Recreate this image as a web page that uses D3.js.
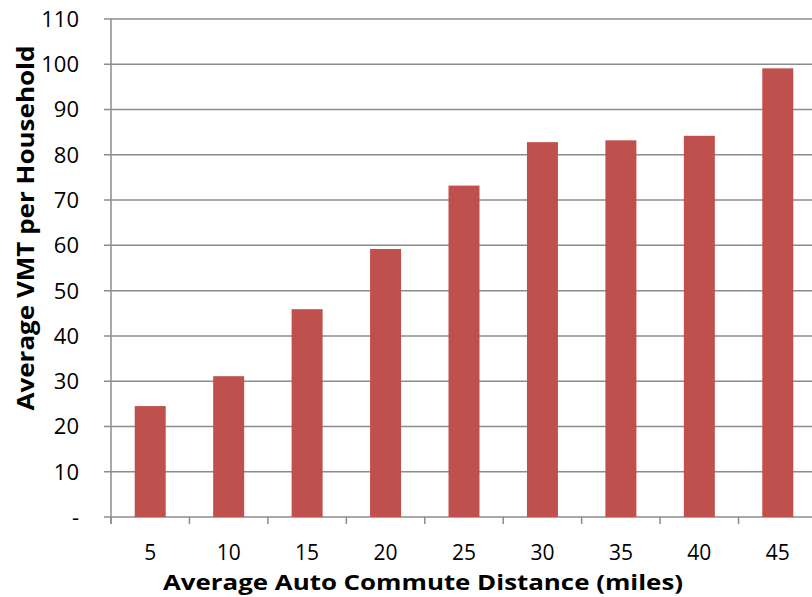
<!DOCTYPE html>
<html>
<head>
<meta charset="utf-8">
<script src="https://cdn.jsdelivr.net/npm/d3@7"></script>
<style>
  html, body { margin: 0; padding: 0; background: #fff; overflow: hidden; }
  svg { display: block; }
</style>
</head>
<body>
<svg id="chart" width="812" height="597"></svg>
<script>
const categories = ["5", "10", "15", "20", "25", "30", "35", "40", "45"];
const values = [24.5, 31.1, 45.9, 59.2, 73.2, 82.8, 83.2, 84.2, 99.1];
const yTicks = [0, 10, 20, 30, 40, 50, 60, 70, 80, 90, 100, 110];
const yTickLabels = ["-", "10", "20", "30", "40", "50", "60", "70", "80", "90", "100", "110"];
const xTitle = "Average Auto Commute Distance (miles)";
const yTitle = "Average VMT per Household";

(function () {
const svg = d3.select("#chart");
const mLeft = 111, mRight = 817, mTop = 19, mBottom = 517;
const font = "'Open Sans', 'Lato', sans-serif";

const xb = d3.scaleBand().domain(categories).range([mLeft, mRight]);
const y = d3.scaleLinear().domain([0, 110]).range([mBottom, mTop]);

// gridlines
svg.append("g").selectAll("line").data(yTicks).join("line")
  .attr("x1", mLeft - 7).attr("x2", 812)
  .attr("y1", d => y(d)).attr("y2", d => y(d))
  .attr("stroke", "#8c8c8c").attr("stroke-width", 1.5);

// bars
svg.append("g").selectAll("rect").data(values).join("rect")
  .attr("x", (d, i) => xb(categories[i]) + xb.bandwidth() / 2 - 15.5)
  .attr("width", 31)
  .attr("y", d => y(d))
  .attr("height", d => y(0) - y(d))
  .attr("fill", "#C0504D");

// y axis line
svg.append("line").attr("x1", mLeft).attr("x2", mLeft).attr("y1", mTop).attr("y2", mBottom + 7)
  .attr("stroke", "#8c8c8c").attr("stroke-width", 1.5);

// x axis ticks at band boundaries
const bounds = categories.map(c => xb(c)).concat([mRight]);
svg.append("g").selectAll("line").data(bounds).join("line")
  .attr("x1", d => d).attr("x2", d => d)
  .attr("y1", mBottom).attr("y2", mBottom + 7)
  .attr("stroke", "#8c8c8c").attr("stroke-width", 1.5);

// y tick labels
svg.append("g").selectAll("text").data(yTicks).join("text")
  .attr("x", 79).attr("y", d => y(d)).attr("dy", "0.36em")
  .attr("text-anchor", "end")
  .attr("font-family", font).attr("font-size", 22).attr("fill", "#000")
  .text((d, i) => yTickLabels[i]);

// x tick labels
svg.append("g").selectAll("text").data(categories).join("text")
  .attr("x", d => xb(d) + xb.bandwidth() / 2).attr("y", 560)
  .attr("text-anchor", "middle")
  .attr("font-family", font).attr("font-size", 21).attr("fill", "#000")
  .text(d => d);

// x title
svg.append("text").attr("x", 423).attr("y", 590)
  .attr("text-anchor", "middle")
  .attr("font-family", font).attr("font-size", 21.5).attr("font-weight", "bold")
  .attr("textLength", 520).attr("lengthAdjust", "spacingAndGlyphs")
  .text(xTitle);

// y title
svg.append("text")
  .attr("transform", "translate(34,228) rotate(-90)")
  .attr("text-anchor", "middle")
  .attr("font-family", font).attr("font-size", 24).attr("font-weight", "bold")
  .attr("textLength", 365).attr("lengthAdjust", "spacingAndGlyphs")
  .text(yTitle);
})();
</script>
</body>
</html>
